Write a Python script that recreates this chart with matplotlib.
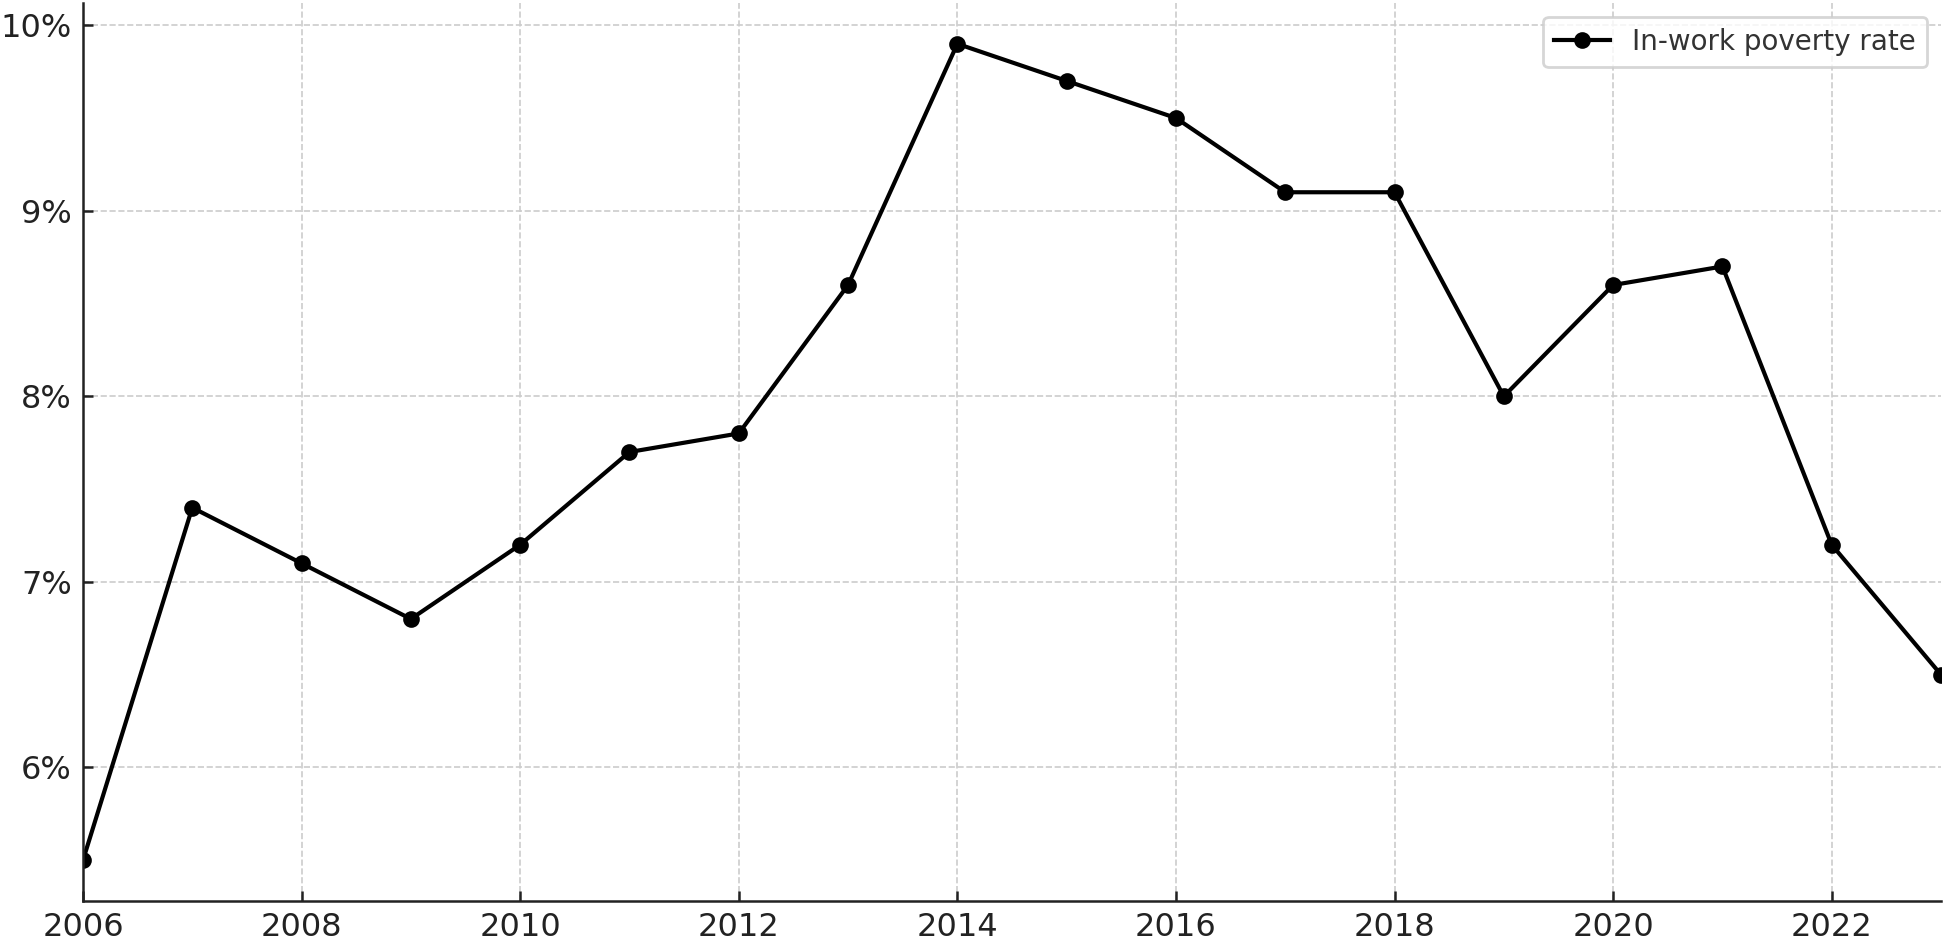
import numpy as np
import matplotlib
matplotlib.use("Agg")
import matplotlib.pyplot as plt
from matplotlib.ticker import FuncFormatter

years = [2006, 2007, 2008, 2009, 2010, 2011, 2012, 2013, 2014,
         2015, 2016, 2017, 2018, 2019, 2020, 2021, 2022, 2023]
rate = [5.5, 7.4, 7.1, 6.8, 7.2, 7.7, 7.8, 8.6, 9.9,
        9.7, 9.5, 9.1, 9.1, 8.0, 8.6, 8.7, 7.2, 6.5]
x_ticks = [2006, 2008, 2010, 2012, 2014, 2016, 2018, 2020, 2022]
y_ticks = [6, 7, 8, 9, 10]

fig = plt.figure(figsize=(9.725, 4.7), dpi=200)
ax = fig.add_axes([83 / 1945, 39 / 940, 1858 / 1945, 898 / 940])

ax.plot(years, rate, color="black", linewidth=1.5, marker="o", markersize=5,
        label="In-work poverty rate")

ax.set_xlim(2006, 2023)
ax.set_ylim(5.28, 10.12)
ax.set_xticks(x_ticks)
ax.set_yticks(y_ticks)
ax.yaxis.set_major_formatter(FuncFormatter(lambda v, p: f"{v:.0f}%"))

ax.grid(True, linestyle="--", color="#cccccc", linewidth=0.6)
ax.set_axisbelow(True)

for side in ["top", "right"]:
    ax.spines[side].set_visible(False)
for side in ["left", "bottom"]:
    ax.spines[side].set_color("#222222")
    ax.spines[side].set_linewidth(0.9)

ax.tick_params(direction="in", length=3.5, width=0.9, color="#222222",
               labelsize=11.5, labelcolor="#222222", pad=4)

leg = ax.legend(loc="upper right", fontsize=10, frameon=True, borderaxespad=0.5)
leg.get_frame().set_edgecolor("#cccccc")
for t in leg.get_texts():
    t.set_color("#333333")

fig.savefig("out.png", dpi=200)
